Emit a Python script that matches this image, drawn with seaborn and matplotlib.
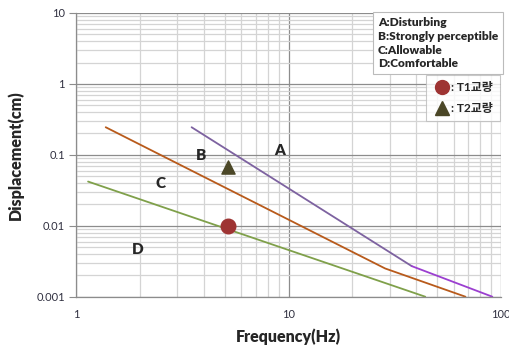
import numpy as np
import pandas as pd
import seaborn as sns
from matplotlib import pyplot as plt
from matplotlib.ticker import LogLocator, FuncFormatter
from matplotlib.lines import Line2D

# 데이터: 진동 허용 기준선 (주파수 Hz, 변위 cm)
freq_a1 = [3.5, 38.0]
disp_a1 = [0.245, 0.0027]
freq_a2 = [38.0, 91.0]
disp_a2 = [0.0027, 0.001]
freq_bc = [1.38, 28.5, 68.0]
disp_bc = [0.245, 0.0025, 0.001]
freq_cd = [1.14, 44.0]
disp_cd = [0.042, 0.001]

# 교량 측정값
bridge_names = [": T1교량", ": T2교량"]
bridge_freq = [5.2, 5.2]
bridge_disp = [0.0098, 0.068]

# 영역 라벨
zone_labels = ["A", "B", "C", "D"]
zone_freq = [9.1, 3.87, 2.5, 1.96]
zone_disp = [0.114, 0.097, 0.040, 0.0047]

sns.set_style("white")
plt.rcParams["font.family"] = ["Lato", "Noto Sans CJK KR", "DejaVu Sans"]

fig = plt.figure(figsize=(5.09, 3.51), dpi=100)
ax = fig.add_axes([0.1493, 0.1547, 0.835, 0.8083])

sns.lineplot(x=freq_a1, y=disp_a1, color="#7D62A0", lw=1.3, ax=ax, sort=False)
sns.lineplot(x=freq_a2, y=disp_a2, color="#9B3FD0", lw=1.3, ax=ax, sort=False)
sns.lineplot(x=freq_bc, y=disp_bc, color="#B85A1B", lw=1.3, ax=ax, sort=False)
sns.lineplot(x=freq_cd, y=disp_cd, color="#7FA04A", lw=1.3, ax=ax, sort=False)

ax.scatter(bridge_freq[0], bridge_disp[0], s=110, marker="o", color="#9E3433", zorder=5)
ax.scatter(bridge_freq[1], bridge_disp[1], s=90, marker="^", color="#4B4727", zorder=5)

for lab, fx, dy in zip(zone_labels, zone_freq, zone_disp):
    ax.text(fx, dy, lab, fontsize=11, fontweight="heavy", ha="center", va="center")

ax.set_xscale("log")
ax.set_yscale("log")
ax.set_xlim(1, 100)
ax.set_ylim(0.001, 10)

ax.xaxis.set_major_locator(LogLocator(base=10))
ax.yaxis.set_major_locator(LogLocator(base=10))
ax.xaxis.set_minor_locator(LogLocator(base=10, subs=np.arange(2, 10)))
ax.yaxis.set_minor_locator(LogLocator(base=10, subs=np.arange(2, 10)))
fmt = FuncFormatter(lambda v, p: "{:g}".format(v))
ax.xaxis.set_major_formatter(fmt)
ax.yaxis.set_major_formatter(fmt)

ax.grid(True, which="major", color="#8C8C8C", lw=0.9)
ax.grid(True, which="minor", color="#D4D4D4", lw=0.9)
ax.set_axisbelow(True)

for s in ["top", "right"]:
    ax.spines[s].set_visible(False)
for s in ["left", "bottom"]:
    ax.spines[s].set_color("#8C8C8C")
    ax.spines[s].set_linewidth(0.9)

ax.tick_params(axis="y", which="major", length=5, color="#8C8C8C", pad=3,
               labelsize=8, labelcolor="#303040", left=True)
ax.tick_params(axis="x", which="major", length=0, pad=9, labelsize=8,
               labelcolor="#303040")
ax.tick_params(which="minor", length=0)

ax.set_xlabel("Frequency(Hz)", fontsize=11.5, fontweight="heavy", labelpad=6)
ax.set_ylabel("Displacement(cm)", fontsize=11.5, fontweight="heavy", labelpad=9)

# 기준 설명 박스
ax.text(0.71, 0.985, "A:Disturbing\nB:Strongly perceptible\nC:Allowable\nD:Comfortable",
        transform=ax.transAxes, fontsize=8.6, fontweight="heavy", va="top", ha="left",
        linespacing=1.3,
        bbox=dict(boxstyle="square,pad=0.4", fc="white", ec="#BBBBBB", lw=0.8))

handles = [
    Line2D([], [], marker="o", ls="", color="#9E3433", markersize=10),
    Line2D([], [], marker="^", ls="", color="#4B4727", markersize=10),
]
leg = ax.legend(handles, bridge_names, loc="upper right", bbox_to_anchor=(0.998, 0.781),
                borderaxespad=0, frameon=True, fancybox=False, edgecolor="#BBBBBB",
                handletextpad=0.0, handlelength=1.5, borderpad=0.6, labelspacing=0.8,
                prop={"weight": "bold", "size": 8.6})
leg.get_frame().set_linewidth(0.8)

plt.savefig("out.png", dpi=100)
